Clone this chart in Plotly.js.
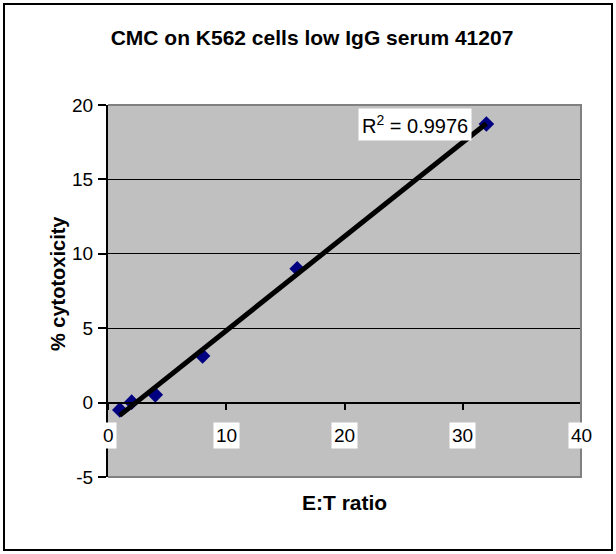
<!DOCTYPE html>
<html>
<head>
<meta charset="utf-8">
<script src="https://cdn.plot.ly/plotly-3.0.1.min.js"></script>
<style>html,body{margin:0;padding:0;background:#fff;}#chart{width:616px;height:554px;}</style>
</head>
<body>
<div id="chart"></div>
<script>
// Data
var etRatio = [1, 2, 4, 8, 16, 32];
var cytotoxicity = [-0.49, 0.03, 0.52, 3.14, 9.0, 18.72];
var xTickValues = [0, 10, 20, 30, 40];
var xTickLabels = ['0', '10', '20', '30', '40'];
var yTickValues = [-5, 0, 5, 10, 15, 20];
var yTickLabels = ['-5', '0', '5', '10', '15', '20'];
var rSquaredLabel = 'R<sup>2</sup> = 0.9976';
var chartTitle = 'CMC on K562 cells low IgG serum 41207';
var xTitle = 'E:T ratio';
var yTitle = '% cytotoxicity';

// Linear least-squares trendline from the data
var n = etRatio.length, sx = 0, sy = 0, sxx = 0, sxy = 0;
for (var i = 0; i < n; i++) { sx += etRatio[i]; sy += cytotoxicity[i]; sxx += etRatio[i]*etRatio[i]; sxy += etRatio[i]*cytotoxicity[i]; }
var slope = (n*sxy - sx*sy) / (n*sxx - sx*sx);
var intercept = (sy - slope*sx) / n;
var xMin = Math.min.apply(null, etRatio), xMax = Math.max.apply(null, etRatio);
var trendX = [xMin, xMax];
var trendY = trendX.map(function (v) { return intercept + slope*v; });

var W = 616, H = 554;
var L = 108, R = 581, T = 105, B = 477;
var pw = R - L, ph = B - T;
function px2x(p) { return (p - L) / pw; }
function px2y(p) { return (B - p) / ph; }

var FONT = 'Liberation Sans, Arial, sans-serif';
var yMin = -5, yMax = 20;

var annotations = xTickValues.map(function (v, i) {
  return { x: v, y: 0, xref: 'x', yref: 'y', yshift: -33, text: xTickLabels[i], showarrow: false,
    bgcolor: '#ffffff', font: { family: FONT, size: 19, color: '#000' }, borderpad: 2 };
});
annotations.push({ x: 26.0, y: 18.67, xref: 'x', yref: 'y', text: rSquaredLabel, showarrow: false,
  bgcolor: '#ffffff', font: { family: FONT, size: 20, color: '#000' }, borderpad: 3 });
annotations.push({ x: px2x(344), y: px2y(516), xref: 'paper', yref: 'paper', text: '<b>' + xTitle + '</b>', showarrow: false,
  font: { family: FONT, size: 21, color: '#000' } });
annotations.push({ x: px2x(45), y: px2y(284), xref: 'paper', yref: 'paper', text: '<b>' + yTitle + '</b>', showarrow: false,
  textangle: -90, font: { family: FONT, size: 20, color: '#000' } });

var data = [
  { x: etRatio, y: cytotoxicity, type: 'scatter', mode: 'markers',
    marker: { symbol: 'diamond', size: 12, color: '#000080' }, hoverinfo: 'skip' },
  { x: trendX, y: trendY, type: 'scatter', mode: 'lines',
    line: { color: '#000000', width: 5 }, hoverinfo: 'skip' }
];

var layout = {
  width: W, height: H,
  margin: { l: L, r: W - R, t: T, b: H - B, pad: 0 },
  paper_bgcolor: '#ffffff', plot_bgcolor: '#c0c0c0',
  showlegend: false,
  title: { text: '<b>' + chartTitle + '</b>', x: 312 / W, xref: 'container', xanchor: 'center',
    y: 1 - 38/H, yref: 'container', yanchor: 'middle',
    font: { family: FONT, size: 21, color: '#000' } },
  xaxis: { range: [0, 40], tickvals: xTickValues, showticklabels: false, ticks: 'outside', ticklen: 6,
    tickwidth: 2, tickcolor: '#000', showline: true, linecolor: '#000', linewidth: 2,
    showgrid: false, zeroline: false, anchor: 'free', position: (0 - yMin)/(yMax - yMin), fixedrange: true },
  yaxis: { range: [yMin, yMax], tickvals: yTickValues, ticktext: yTickLabels, ticks: 'outside', ticklen: 8, tickwidth: 2,
    tickcolor: '#000', showline: true, linecolor: '#000', linewidth: 2, showgrid: true,
    gridcolor: '#000', gridwidth: 1, zeroline: false, ticklabelstandoff: 1,
    tickfont: { family: FONT, size: 19, color: '#000' }, fixedrange: true },
  shapes: [
    { type: 'path', xref: 'paper', yref: 'paper', path: 'M 0 1 L 1 1 L 1 0 L 0 0', layer: 'above',
      line: { color: '#808080', width: 2 } },
    { type: 'rect', xref: 'paper', yref: 'paper', x0: px2x(4), x1: px2x(612), y0: px2y(4), y1: px2y(550),
      line: { color: '#000', width: 2 }, layer: 'above' }
  ],
  annotations: annotations
};

Plotly.newPlot('chart', data, layout, { displayModeBar: false, staticPlot: true });
</script>
</body>
</html>
